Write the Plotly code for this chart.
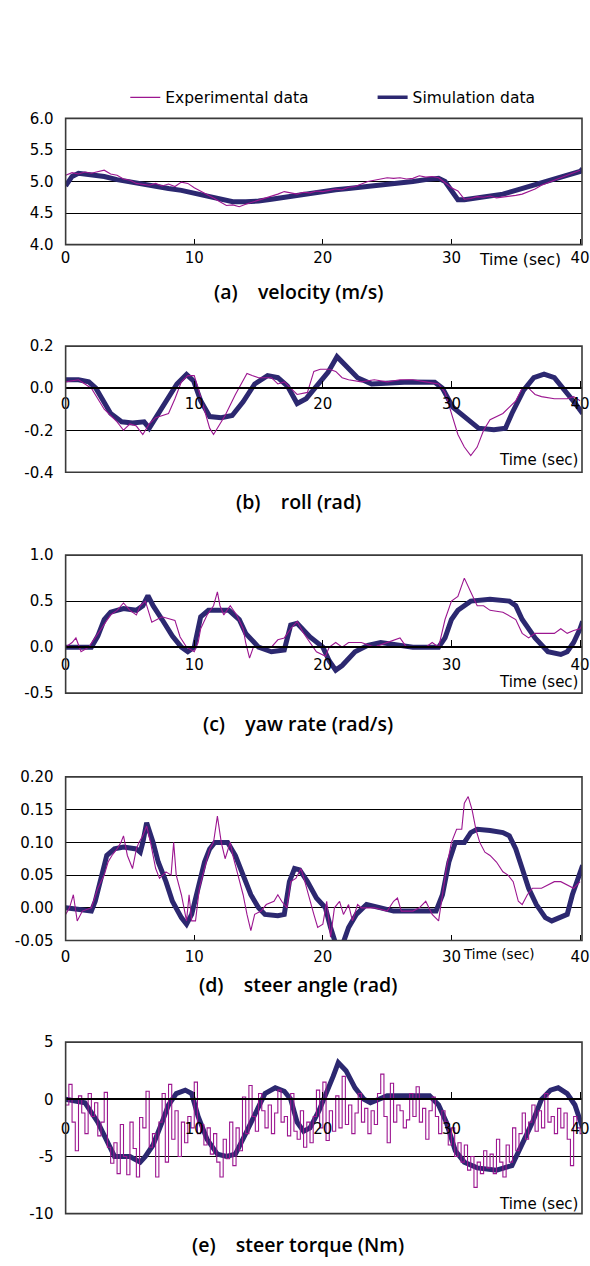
import plotly.graph_objects as go

# ---------------- data ----------------
# (a) velocity (m/s)
t_sim_a = [0, 0.5, 1, 2, 3, 4, 5, 6, 7, 8, 9, 10, 11, 12, 13, 14, 15, 16, 17, 18, 19, 20,
           21, 22, 23, 24, 25, 26, 27, 28, 29, 29.5, 30, 30.5, 31, 32, 33, 34, 35, 36, 37,
           38, 39, 40, 40.2]
v_sim_a = [4.93, 5.08, 5.13, 5.11, 5.08, 5.03, 4.99, 4.95, 4.92, 4.89, 4.86, 4.82, 4.77,
           4.72, 4.68, 4.68, 4.69, 4.72, 4.75, 4.78, 4.82, 4.85, 4.87, 4.89, 4.91, 4.93,
           4.95, 4.97, 5.00, 5.03, 5.05, 5.00, 4.84, 4.71, 4.71, 4.74, 4.77, 4.80, 4.86,
           4.92, 4.98, 5.04, 5.09, 5.16, 5.20]
t_exp_a = [0, 0.5, 1, 1.5, 2, 2.5, 3, 3.5, 4, 4.5, 5, 5.5, 6, 6.5, 7, 7.5, 8, 8.5, 9, 9.5,
           10, 10.5, 11, 11.5, 12, 12.5, 13, 13.5, 14, 14.5, 15, 15.5, 16, 16.5, 17, 17.5,
           18, 18.5, 19, 19.5, 20, 20.5, 21, 21.5, 22, 22.5, 23, 23.5, 24, 24.5, 25, 25.5,
           26, 26.5, 27, 27.5, 28, 28.5, 29, 29.5, 30, 30.5, 31, 31.5, 32, 32.5, 33, 33.5,
           34, 34.5, 35, 35.5, 36, 36.5, 37, 37.5, 38, 38.5, 39, 39.5, 40]
v_exp_a = [5.10, 5.14, 5.12, 5.15, 5.13, 5.16, 5.18, 5.12, 5.10, 5.04, 5.02, 4.97, 4.96,
           4.94, 4.97, 4.93, 4.96, 4.92, 4.99, 4.97, 4.90, 4.85, 4.80, 4.74, 4.68, 4.62,
           4.63, 4.60, 4.64, 4.67, 4.71, 4.73, 4.77, 4.80, 4.84, 4.82, 4.80, 4.83, 4.82,
           4.85, 4.84, 4.86, 4.88, 4.87, 4.91, 4.92, 4.96, 5.00, 5.02, 5.04, 5.06, 5.05,
           5.06, 5.04, 5.05, 5.09, 5.07, 5.08, 5.06, 4.98, 4.90, 4.85, 4.72, 4.73, 4.76,
           4.75, 4.77, 4.74, 4.75, 4.76, 4.78, 4.80, 4.84, 4.88, 4.94, 4.98, 5.02, 5.05,
           5.09, 5.13, 5.18]

# (b) roll (rad)
t_sim_b = [0, 1, 1.8, 2.35, 3.5, 4.35, 5.2, 6.1, 6.5, 6.9, 7.8, 8.65, 9.4, 9.95, 10.5,
           11.2, 12.1, 12.95, 13.8, 14.7, 15.7, 16.5, 17.25, 18.0, 18.7, 19.5, 20.4, 21.1,
           21.8, 22.7, 23.8, 25.3, 26.7, 28.7, 29.3, 30.1, 31.3, 32.1, 33.3, 34.2, 34.7,
           35.6, 36.4, 37.2, 38.0, 38.7, 39.6, 40.2]
v_sim_b = [0.04, 0.04, 0.03, 0.0, -0.12, -0.16, -0.165, -0.16, -0.19, -0.15, -0.07, 0.02,
           0.065, 0.035, -0.06, -0.135, -0.14, -0.13, -0.065, 0.02, 0.06, 0.05, 0.01,
           -0.073, -0.05, 0.005, 0.075, 0.15, 0.105, 0.05, 0.02, 0.023, 0.03, 0.028, 0.0,
           -0.09, -0.15, -0.19, -0.197, -0.19, -0.12, -0.01, 0.05, 0.067, 0.05, 0.0,
           -0.07, -0.12]
t_exp_b = [0, 1, 2, 3, 4, 4.5, 5, 5.5, 6, 6.5, 7, 8, 8.5, 9, 9.5, 10, 10.3, 10.8, 11.2,
           11.5, 12.4, 13.2, 14.1, 14.5, 15, 16, 16.5, 17, 18, 18.8, 19.3, 19.8, 20.5, 21,
           21.5, 22, 23, 24, 25, 26, 27, 28, 29, 29.5, 30, 30.5, 31, 31.5, 32, 32.5, 33,
           34, 35, 35.5, 36, 36.5, 37, 38, 39, 39.5, 40]
v_exp_b = [0.03, 0.04, 0.0, -0.10, -0.16, -0.20, -0.17, -0.18, -0.22, -0.17, -0.14, -0.12,
           -0.05, 0.03, 0.06, 0.06, 0.0, -0.10, -0.19, -0.22, -0.13, -0.03, 0.07, 0.06,
           0.05, 0.05, 0.02, 0.03, -0.03, -0.02, 0.08, 0.09, 0.09, 0.08, 0.05, 0.04, 0.03,
           0.04, 0.03, 0.04, 0.04, 0.03, 0.02, -0.02, -0.12, -0.22, -0.28, -0.32, -0.28,
           -0.20, -0.15, -0.12, -0.06, 0.0, 0.0, -0.03, -0.04, -0.05, -0.05, -0.04, -0.06]

# (c) yaw rate (rad/s)
t_sim_c = [0, 2, 2.5, 3, 3.5, 4.5, 5.5, 6.0, 6.4, 6.8, 7.5, 8.3, 9.0, 9.5, 10.0, 10.5,
           11.1, 11.5, 12.7, 13.5, 14.0, 15.0, 16.0, 17.0, 17.5, 18.0, 19.0, 20.0, 20.5,
           21.0, 21.5, 22.5, 23.5, 24.5, 25.5, 27.0, 29.0, 29.5, 30.0, 30.5, 31.5, 33.0,
           34.5, 35.0, 35.5, 36.5, 37.5, 38.5, 39.0, 39.5, 40.0, 40.2]
v_sim_c = [0.0, 0.0, 0.12, 0.30, 0.38, 0.42, 0.40, 0.45, 0.56, 0.45, 0.30, 0.12, 0.0,
           -0.05, 0.0, 0.33, 0.40, 0.40, 0.40, 0.30, 0.15, 0.0, -0.05, -0.03, 0.24, 0.26,
           0.11, 0.0, -0.15, -0.25, -0.20, -0.05, 0.02, 0.05, 0.03, 0.0, 0.0, 0.10, 0.30,
           0.40, 0.50, 0.52, 0.50, 0.45, 0.30, 0.10, -0.05, -0.08, -0.05, 0.05, 0.20, 0.28]
t_exp_c = [0, 0.5, 0.8, 1.2, 1.8, 2.5, 3, 3.5, 4, 4.5, 5, 5.5, 5.8, 6.2, 6.7, 7.5, 8.5,
           8.9, 9.4, 10.0, 10.3, 10.5, 11, 11.5, 11.8, 12, 12.3, 12.8, 13.3, 13.8, 14,
           14.3, 14.6, 15, 16, 16.5, 17, 17.5, 18, 18.5, 19, 19.5, 20.2, 20.5, 21, 21.5,
           22, 23, 24, 25, 26, 26.5, 27, 28, 28.5, 29, 29.5, 30, 30.5, 31, 31.5, 32, 32.5,
           33, 34, 35, 35.5, 36, 36.5, 37, 38, 38.5, 39, 39.5, 40, 40.2]
v_exp_c = [0.0, 0.05, 0.10, -0.05, 0.0, 0.15, 0.25, 0.35, 0.40, 0.48, 0.40, 0.35, 0.45,
           0.50, 0.27, 0.33, 0.29, 0.11, 0.0, -0.05, 0.05, 0.20, 0.35, 0.45, 0.60, 0.45,
           0.35, 0.45, 0.35, 0.20, 0.05, -0.12, 0.0, 0.0, 0.0, 0.08, 0.10, 0.20, 0.28,
           0.15, 0.05, -0.05, -0.10, 0.0, 0.05, 0.0, 0.05, 0.05, 0.0, 0.05, 0.10, 0.0,
           0.0, 0.0, 0.05, 0.0, 0.30, 0.50, 0.55, 0.75, 0.60, 0.45, 0.45, 0.40, 0.38,
           0.30, 0.15, 0.10, 0.15, 0.15, 0.15, 0.20, 0.15, 0.18, 0.20, 0.25]

# (d) steer angle (rad)
t_sim_d = [0, 2, 2.3, 2.8, 3.2, 3.8, 4.5, 5.5, 5.8, 6.0, 6.3, 6.8, 7.2, 7.8, 8.3, 9.0,
           9.4, 9.8, 10.3, 10.8, 11.2, 11.6, 12.6, 13.2, 13.8, 14.4, 15.0, 15.5, 16.5,
           17.0, 17.4, 17.8, 18.2, 18.8, 19.5, 20.2, 20.6, 21.0, 21.5, 22.0, 22.6, 23.4,
           24.5, 25.5, 27.0, 28.8, 29.3, 29.8, 30.3, 31.0, 31.5, 32.0, 33.0, 34.0, 34.5,
           35.0, 35.5, 36.0, 36.6, 37.3, 37.8, 38.5, 39.0, 39.4, 39.8, 40.2]
v_sim_d = [0.0, -0.005, 0.01, 0.05, 0.08, 0.09, 0.093, 0.09, 0.085, 0.10, 0.13, 0.10,
           0.07, 0.04, 0.01, -0.015, -0.025, -0.01, 0.03, 0.07, 0.09, 0.10, 0.10, 0.08,
           0.05, 0.02, 0.0, -0.01, -0.012, -0.01, 0.04, 0.06, 0.058, 0.04, 0.015, 0.0,
           -0.03, -0.055, -0.058, -0.03, -0.01, 0.005, 0.0, -0.005, -0.005, -0.005, 0.02,
           0.07, 0.10, 0.10, 0.115, 0.12, 0.118, 0.115, 0.11, 0.09, 0.06, 0.03, 0.005,
           -0.015, -0.02, -0.015, -0.01, 0.02, 0.04, 0.065]
t_exp_d = [0, 0.3, 0.6, 0.9, 1.3, 2.0, 2.5, 3.0, 3.3, 3.6, 4.0, 4.3, 4.5, 4.8, 5.2, 5.5,
           5.7, 6.0, 6.3, 6.6, 7.0, 7.3, 7.8, 8.2, 8.4, 8.6, 9.0, 9.2, 9.4, 9.6, 9.8, 10.1,
           10.4, 10.8, 11.2, 11.5, 11.8, 12.1, 12.4, 12.8, 13.0, 13.4, 13.8, 14.1, 14.4,
           14.7, 15.2, 15.6, 16.2, 16.5, 16.8, 17.2, 17.5, 17.9, 18.3, 18.6, 19.0, 19.3,
           19.6, 20.0, 20.3, 20.6, 20.9, 21.3, 21.6, 22.0, 22.3, 22.7, 23, 24, 25, 25.5,
           25.8, 26.1, 27, 27.5, 28, 28.5, 29, 29.3, 29.6, 30, 30.4, 30.8, 31.0, 31.3,
           31.6, 31.9, 32.2, 32.6, 33.0, 33.5, 34, 34.4, 34.8, 35.2, 35.5, 35.9, 36.3, 37,
           37.5, 38, 38.5, 39, 39.5, 40]
v_exp_d = [-0.01, 0.0, 0.02, -0.02, -0.005, 0.0, 0.03, 0.05, 0.07, 0.08, 0.09, 0.10,
           0.11, 0.08, 0.06, 0.09, 0.10, 0.11, 0.125, 0.10, 0.06, 0.045, 0.055, 0.05,
           0.10, 0.05, 0.02, 0.0, -0.02, 0.02, -0.02, -0.02, 0.03, 0.06, 0.09, 0.10, 0.14,
           0.10, 0.075, 0.10, 0.08, 0.05, 0.02, -0.01, -0.035, -0.01, -0.005, 0.005, 0.01,
           0.02, 0.01, 0.0, 0.04, 0.045, 0.06, 0.04, 0.01, -0.01, -0.03, -0.025, 0.01,
           -0.045, 0.0, 0.01, -0.01, 0.005, -0.02, 0.005, 0.0, 0.0, -0.005, 0.01, 0.015,
           -0.005, -0.005, 0.0, 0.01, -0.01, -0.02, 0.02, 0.06, 0.10, 0.12, 0.12, 0.16,
           0.17, 0.15, 0.12, 0.10, 0.085, 0.08, 0.07, 0.055, 0.05, 0.04, 0.01, 0.005, 0.02,
           0.03, 0.03, 0.035, 0.04, 0.04, 0.035, 0.03, 0.04]

# (e) steer torque (Nm)
t_sim_e = [0, 1.5, 2.5, 3.3, 3.8, 5.0, 5.8, 6.2, 6.8, 7.5, 8.0, 8.6, 9.3, 9.8, 10.3, 11.0,
           11.8, 12.5, 13.2, 14.0, 14.8, 15.5, 16.3, 17.0, 17.5, 18.0, 18.5, 19.0, 19.7,
           20.3, 20.8, 21.2, 21.8, 22.5, 23.2, 23.7, 24.5, 25.0, 27.0, 28.3, 29.0, 29.6,
           30.3, 31.0, 32.0, 33.5, 34.7, 35.5, 36.3, 37.0, 37.7, 38.3, 39.0, 39.6, 40.2]
v_sim_e = [0.0, -0.3, -2.0, -4.0, -5.0, -5.0, -5.5, -5.0, -4.0, -2.0, -0.5, 0.5, 0.8, 0.5,
           -1.5, -3.5, -4.8, -5.0, -4.8, -3.0, -1.0, 0.5, 1.0, 0.7, 0.0, -2.0, -2.8, -2.5,
           -1.0, 0.5, 2.0, 3.2, 2.5, 1.0, 0.0, -0.3, 0.1, 0.3, 0.3, 0.3, -0.5, -2.0, -4.5,
           -5.5, -6.0, -6.2, -5.8, -4.0, -2.0, 0.0, 0.8, 1.0, 0.5, -0.5, -2.5]
t_exp_e = [i * 0.25 for i in range(162)]
v_exp_e = [-0.5, 1.3, -2.0, -4.5, 0.3, -1.2, -3.0, 0.5, -1.5, -0.3, -3.2, -2.0,
           0.6, -4.2, -5.6, -3.8, -6.5, -2.2, -5.0, -6.6, -2.0, -4.3, -6.8, -1.6,
           -2.5, 0.7, -4.2, -3.0, -6.8, -2.0, 0.5, -5.5, 1.3, -3.5, -1.0, -5.0,
           -2.0, -3.8, -1.5, -2.5, 1.5, -3.0, -2.2, -4.0, -2.5, -4.8, -3.0, -5.5,
           -6.8, -3.5, -5.2, -2.0, -5.8, -2.5, -4.5, 0.2, -3.0, 1.2, -1.5, -2.8,
           0.5, -1.0, -2.5, -0.5, -3.0, -1.2, 0.8, -2.0, -1.5, -3.2, 0.5, -2.8,
           -3.5, -1.0, -4.2, -2.0, -3.8, -1.5, 0.8, -2.5, 1.5, -3.6, -1.0, -2.8,
           0.3, -2.5, 2.0, -2.2, -0.5, -3.0, -1.2, 0.5, -2.0, -0.8, -3.0, -1.0,
           -2.2, 0.5, 2.2, -1.5, -3.8, 1.4, -2.0, -0.5, -1.0, -2.5, -1.8, 0.5,
           -1.5, 1.1, -2.0, -0.8, -3.5, -1.0, 0.2, -1.5, -3.0, -1.0, -2.0, -4.0,
           -2.5, -5.0, -3.8, -5.5, -4.0, -6.2, -5.0, -7.7, -5.5, -6.5, -4.5, -6.0,
           -4.8, -6.5, -3.5, -5.5, -6.8, -4.0, -5.5, -2.5, -4.5, -3.0, -1.2, -3.5,
           -2.0, -0.5, -2.8, -1.0, -2.5, 0.5, -2.0, -1.5, -3.0, -0.8, -2.5, -1.2,
           -3.5, -5.8, -1.5, -2.5, -3.0, -3.2]

captions = ["(a)\u00a0\u00a0\u00a0\u00a0velocity (m/s)", "(b)\u00a0\u00a0\u00a0\u00a0roll (rad)",
            "(c)\u00a0\u00a0\u00a0\u00a0yaw rate (rad/s)", "(d)\u00a0\u00a0\u00a0\u00a0steer angle (rad)",
            "(e)\u00a0\u00a0\u00a0\u00a0steer torque (Nm)"]
legend_names = ["Experimental data", "Simulation data"]
x_ticks = [0, 10, 20, 30, 40]
y_ticks = [[4.0, 4.5, 5.0, 5.5, 6.0], [-0.4, -0.2, 0.0, 0.2], [-0.5, 0.0, 0.5, 1.0],
           [-0.05, 0.0, 0.05, 0.10, 0.15, 0.20], [-10, -5, 0, 5]]
y_tick_text = [["4.0", "4.5", "5.0", "5.5", "6.0"], ["-0.4", "-0.2", "0.0", "0.2"],
               ["-0.5", "0.0", "0.5", "1.0"], ["-0.05", "0.00", "0.05", "0.10", "0.15", "0.20"],
               ["-10", "-5", "0", "5"]]
y_ranges = [[4.0, 6.0], [-0.4, 0.2], [-0.5, 1.0], [-0.05, 0.20], [-10, 5]]

series = [(t_exp_a, v_exp_a, t_sim_a, v_sim_a), (t_exp_b, v_exp_b, t_sim_b, v_sim_b),
          (t_exp_c, v_exp_c, t_sim_c, v_sim_c), (t_exp_d, v_exp_d, t_sim_d, v_sim_d),
          (t_exp_e, v_exp_e, t_sim_e, v_sim_e)]

# ---------------- layout geometry (pixels) ----------------
W, H = 590, 1266
panel_px = [(111, 239), (342, 470), (554, 694), (779, 945), (1048, 1222)]
zero_axis = [False, True, True, False, True]
xlab_standoff = [2, 2, 4, 5, 16]
caption_y = [287, 500, 725, 990, 1253]
timesec = [(527, 255, "center", 15.5), (588, 457, "right", 15), (588, 683, "right", 15),
           (505, 959, "center", 13.5), (588, 1212, "right", 15)]

EXP_COL = "#9c1690"
SIM_COL = "#2c2870"
TXT_FONT = "DejaVu Sans"
TICKFONT = dict(family=TXT_FONT, size=15, color="black")

fig = go.Figure()
shapes = []
annotations = []
x0dom = 62 / W

# legend samples (first so the legend reads Experimental, Simulation)
fig.add_trace(go.Scatter(x=[None], y=[None], mode="lines",
                         name=legend_names[0] + "\u00a0" * 12,
                         line=dict(color=EXP_COL, width=1.2), showlegend=True))
fig.add_trace(go.Scatter(x=[None], y=[None], mode="lines", name=legend_names[1],
                         line=dict(color=SIM_COL, width=3.5), showlegend=True))

for i in range(5):
    n = "" if i == 0 else str(i + 1)
    te, ve, ts, vs = series[i]
    fig.add_trace(go.Scatter(x=ts, y=vs, mode="lines", name=legend_names[1],
                             line=dict(color=SIM_COL, width=5),
                             xaxis="x" + n, yaxis="y" + n, showlegend=False))
    fig.add_trace(go.Scatter(x=te, y=ve, mode="lines", name=legend_names[0],
                             line=dict(color=EXP_COL, width=1.1,
                                       shape="hv" if i == 4 else "linear"),
                             xaxis="x" + n, yaxis="y" + n, showlegend=False))
    top, bot = panel_px[i]
    ydom = [1 - bot / H, 1 - top / H]
    xa = dict(domain=[x0dom, 1.0], range=[0, 40.15], tickvals=x_ticks,
              ticks="inside", ticklen=6, tickcolor="black", tickwidth=1,
              showgrid=False, zeroline=False, tickfont=TICKFONT,
              ticklabelstandoff=xlab_standoff[i], ticklabeloverflow="allow",
              anchor="y" + n)
    if zero_axis[i]:
        yr = y_ranges[i]
        frac = (0 - yr[0]) / (yr[1] - yr[0])
        xa.update(anchor="free", position=ydom[0] + frac * (ydom[1] - ydom[0]),
                  showline=True, linecolor="black", linewidth=2)
    else:
        xa.update(showline=False)
    ya = dict(domain=ydom, range=y_ranges[i], tickvals=y_ticks[i], ticktext=y_tick_text[i],
              ticks="", showgrid=True, gridcolor="black", gridwidth=1,
              zeroline=False, showline=False, tickfont=TICKFONT,
              ticklabelstandoff=11, ticklabeloverflow="allow", anchor="x" + n)
    fig.layout["xaxis" + n] = xa
    fig.layout["yaxis" + n] = ya
    shapes.append(dict(type="rect", xref="x" + n + " domain", yref="y" + n + " domain",
                       x0=0, x1=1, y0=0, y1=1, line=dict(color="#3a3a3a", width=1.6),
                       layer="above"))
    annotations.append(dict(text=captions[i], x=300 / W, y=1 - caption_y[i] / H,
                            xref="paper", yref="paper", showarrow=False,
                            xanchor="center", yanchor="middle",
                            font=dict(family="Open Sans", size=19.5, color="black", weight=600)))
    tx, ty, anc, fs = timesec[i]
    annotations.append(dict(text="Time (sec)", x=tx / W, y=1 - ty / H, xref="paper",
                            yref="paper", showarrow=False, xanchor=anc, yanchor="middle",
                            font=dict(family=TXT_FONT, size=fs, color="black")))

fig.update_layout(
    width=W, height=H, margin=dict(l=0, r=0, t=0, b=0),
    paper_bgcolor="white", plot_bgcolor="white",
    shapes=shapes, annotations=annotations,
    legend=dict(orientation="h", x=123 / W, y=1 - 90 / H, xanchor="left", yanchor="middle",
                font=dict(family=TXT_FONT, size=15.5, color="black"),
                bgcolor="rgba(0,0,0,0)", traceorder="normal"),
)

fig.write_html("out.html")
